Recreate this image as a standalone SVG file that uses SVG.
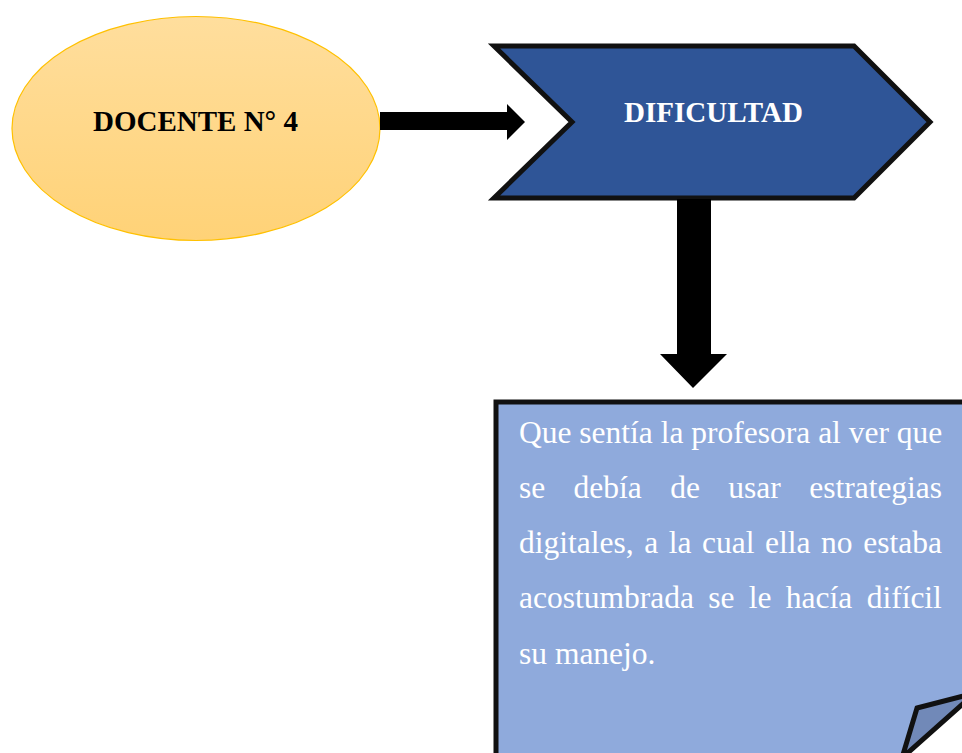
<svg xmlns="http://www.w3.org/2000/svg" width="962" height="753" viewBox="0 0 962 753">
<defs>
<linearGradient id="gOrange" x1="0" y1="0" x2="0" y2="1">
<stop offset="0" stop-color="#FFDE9D"/>
<stop offset="1" stop-color="#FFD277"/>
</linearGradient>
</defs>
<style>
.title{font-family:"Liberation Serif","Times New Roman",serif;font-weight:bold;font-size:29px;text-anchor:middle}
.body{font-family:"Liberation Serif","Times New Roman",serif;font-size:31.5px;fill:#FFFFFF}
.outline{stroke:#111111;stroke-width:5;stroke-linejoin:miter}
.arrow{fill:#000000}
</style>
<rect width="962" height="753" fill="#FFFFFF"/>
<g id="docente">
<ellipse cx="196" cy="128.5" rx="184" ry="112" fill="url(#gOrange)" stroke="#FFC000" stroke-width="1.2"/>
<text class="title" x="195.5" y="131" fill="#000000">DOCENTE N° 4</text>
</g>
<g id="dificultad">
<polygon class="outline" points="494,46 854,46 930,122 854,198 494,198 572,122" fill="#2F5597"/>
<text class="title" x="713.5" y="122" fill="#FFFFFF">DIFICULTAD</text>
</g>
<g id="nota">
<polygon class="outline" points="496,402 975,402 975,684 893,766 496,766" fill="#8FAADC"/>
<polygon class="outline" points="917,708 975,693 902,758" fill="#7189B8"/>
<text class="body" x="519" y="443">Que sentía la profesora al ver que</text>
<text class="body" x="519" y="498" word-spacing="20.5">se debía de usar estrategias</text>
<text class="body" x="519" y="553" word-spacing="2.7">digitales, a la cual ella no estaba</text>
<text class="body" x="519" y="608" word-spacing="6.45">acostumbrada se le hacía difícil</text>
<text class="body" x="519" y="664">su manejo.</text>
</g>
<g id="connectors">
<polygon class="arrow" points="380,112 507,112 507,104 525,122 507,140 507,130 380,130"/>
<polygon class="arrow" points="677,199 711,199 711,354 727,354 693,388 660,354 677,354"/>
</g>
</svg>
